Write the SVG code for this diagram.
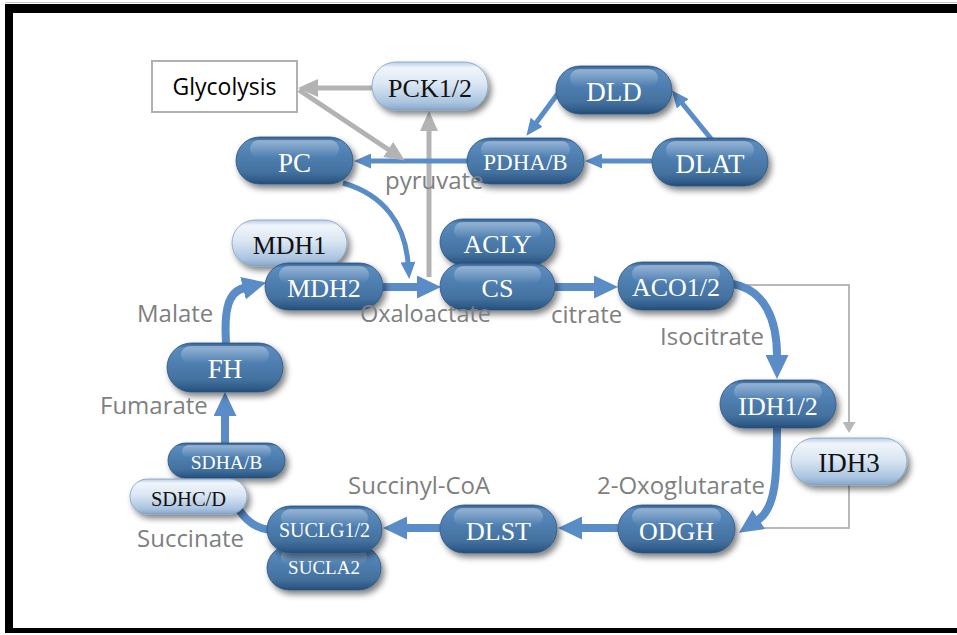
<svg xmlns="http://www.w3.org/2000/svg" width="957" height="635" viewBox="0 0 957 635">
<style>
.lbl{font-family:"Open Sans","Liberation Sans",sans-serif;font-size:24px;fill:#7f7f7f}
.nt{font-family:"Liberation Serif","Times New Roman",serif;font-size:26px;text-anchor:middle}
.dt{fill:#ffffff}
.lt{fill:#111111}
.dk{fill:url(#gDark);stroke:#2c5580;stroke-width:0.8;filter:url(#ds)}
.li{fill:url(#gLight);stroke:#7f9fc2;stroke-width:0.8;filter:url(#ds)}
.hl{fill:url(#gHi)}
.bl{fill:none;stroke:#5a8dc8;stroke-width:8}
.bs{fill:none;stroke:#5a8dc8;stroke-width:5}
.gy{fill:none;stroke:#b3b3b3;stroke-width:5}
.gt{fill:none;stroke:#b8b8b8;stroke-width:2}
</style>
<defs>
<linearGradient id="gDark" x1="0" y1="0" x2="0" y2="1">
<stop offset="0" stop-color="#335f8e"/>
<stop offset="0.1" stop-color="#5b8bbd"/>
<stop offset="0.35" stop-color="#5081b3"/>
<stop offset="0.75" stop-color="#43719f"/>
<stop offset="0.93" stop-color="#2f5a87"/>
<stop offset="1" stop-color="#234a74"/>
</linearGradient>
<linearGradient id="gLight" x1="0" y1="0" x2="0" y2="1">
<stop offset="0" stop-color="#b7cde5"/>
<stop offset="0.12" stop-color="#f0f5fb"/>
<stop offset="0.45" stop-color="#dbe7f3"/>
<stop offset="0.85" stop-color="#a9c3df"/>
<stop offset="1" stop-color="#86a6c9"/>
</linearGradient>
<linearGradient id="gHi" x1="0" y1="0" x2="0" y2="1">
<stop offset="0" stop-color="#ffffff" stop-opacity="0.35"/>
<stop offset="1" stop-color="#ffffff" stop-opacity="0"/>
</linearGradient>
<filter id="ds" x="-20%" y="-30%" width="150%" height="170%">
<feGaussianBlur in="SourceAlpha" stdDeviation="3"/>
<feOffset dx="3" dy="4" result="b"/>
<feComponentTransfer><feFuncA type="linear" slope="0.5"/></feComponentTransfer>
<feMerge><feMergeNode/><feMergeNode in="SourceGraphic"/></feMerge>
</filter>
<marker id="am" viewBox="0 0 24 23" refX="1" refY="11.5" markerWidth="24" markerHeight="23" markerUnits="userSpaceOnUse" orient="auto"><path d="M0,0 L24,11.5 L0,23 z" fill="#5a8dc8"/></marker>
<marker id="as" viewBox="0 0 17 15" refX="1" refY="7.5" markerWidth="17" markerHeight="15" markerUnits="userSpaceOnUse" orient="auto"><path d="M0,0 L17,7.5 L0,15 z" fill="#5a8dc8"/></marker>
<marker id="ag" viewBox="0 0 20 18" refX="1" refY="9" markerWidth="20" markerHeight="18" markerUnits="userSpaceOnUse" orient="auto"><path d="M0,0 L20,9 L0,18 z" fill="#b3b3b3"/></marker>
<marker id="at" viewBox="0 0 11 13" refX="1" refY="6.5" markerWidth="11" markerHeight="13" markerUnits="userSpaceOnUse" orient="auto"><path d="M0,0 L11,6.5 L0,13 z" fill="#b8b8b8"/></marker>
</defs>
<rect x="0" y="0" width="957" height="635" fill="#ffffff"/>
<g id="frame">
<rect x="5" y="2" width="952" height="1" fill="#c8c8c8"/>
<rect x="5" y="4" width="952" height="9" fill="#000000"/>
<rect x="5" y="4" width="8" height="629" fill="#000000"/>
<rect x="5" y="628" width="952" height="5" fill="#000000"/>
</g>
<g id="connectors">
<path class="gt" d="M735,285 L849,285 L849,423" marker-end="url(#at)"/>
<path class="gt" d="M849,485 L849,528 L742,528"/>
<path class="gy" d="M429,277 L429,130" marker-end="url(#ag)"/>
<path class="gy" d="M372,88 L317,88" marker-end="url(#ag)"/>
<path class="bs" d="M652,161 L601,161" marker-end="url(#as)"/>
<path class="bs" d="M712,140 L682,103" marker-end="url(#as)"/>
<path class="bs" d="M559,92 L536,123" marker-end="url(#as)"/>
<path class="bs" d="M468,161 L370,161" marker-end="url(#as)"/>
<path class="gy" d="M299,90 L389,150" marker-end="url(#ag)"/>
<path class="bs" d="M343,183 C385,195 405,225 408,263" marker-end="url(#as)"/>
<path class="bl" d="M383,287 L418,287" marker-end="url(#am)"/>
<path class="bl" d="M555,287 L595,287" marker-end="url(#am)"/>
<path class="bl" d="M733,284 C765,290 777,320 777,356" marker-end="url(#am)"/>
<path class="bl" d="M777,428 C777,475 776,508 758,520" marker-end="url(#am)"/>
<path class="bl" d="M618,528 L581,528" marker-end="url(#am)"/>
<path class="bl" d="M440,528 L406,528" marker-end="url(#am)"/>
<path class="bl" d="M270,530 C255,528 245,520 238,508"/>
<path class="bl" d="M225,445 L225,415" marker-end="url(#am)"/>
<path class="bl" d="M226,343 C224,310 228,292 244,288" marker-end="url(#am)"/>
</g>
<g id="n-glycolysis">
<rect x="152" y="61" width="145" height="51" fill="#ffffff" stroke="#b0b0b0" stroke-width="2"/>
<text x="224.5" y="95" font-family="Open Sans, Liberation Sans, sans-serif" font-size="23" fill="#000000" text-anchor="middle">Glycolysis</text>
</g>
<g id="n-PCK">
<rect class="li" x="372" y="62" width="116" height="48" rx="24"/>
<text class="nt lt" x="430" y="97">PCK1/2</text>
</g>
<g id="n-PC">
<rect class="dk" x="236" y="137" width="117" height="47" rx="23.5"/>
<rect class="hl" x="250" y="140" width="89" height="18" rx="9"/>
<text class="nt dt" x="294.5" y="172" style="font-size:27px">PC</text>
</g>
<g id="n-PDHA">
<rect class="dk" x="467" y="138" width="117" height="46" rx="23"/>
<rect class="hl" x="481" y="141" width="89" height="17" rx="8.5"/>
<text class="nt dt" x="525.5" y="170" style="font-size:23px">PDHA/B</text>
</g>
<g id="n-DLD">
<rect class="dk" x="556" y="66" width="116" height="48" rx="24"/>
<rect class="hl" x="570" y="69" width="88" height="18" rx="9"/>
<text class="nt dt" x="614" y="101" style="font-size:27px">DLD</text>
</g>
<g id="n-DLAT">
<rect class="dk" x="652" y="138" width="116" height="48" rx="24"/>
<rect class="hl" x="666" y="141" width="88" height="18" rx="9"/>
<text class="nt dt" x="710" y="173" style="font-size:27px">DLAT</text>
</g>
<g id="n-MDH1">
<rect class="li" x="232" y="220" width="115" height="46" rx="23"/>
<text class="nt lt" x="289.5" y="254">MDH1</text>
</g>
<g id="n-MDH2">
<rect class="dk" x="265" y="263" width="118" height="47" rx="23.5"/>
<rect class="hl" x="279" y="266" width="90" height="18" rx="9"/>
<text class="nt dt" x="324" y="297">MDH2</text>
</g>
<g id="n-ACLY">
<rect class="dk" x="440" y="219" width="115" height="46" rx="23"/>
<rect class="hl" x="454" y="222" width="87" height="17" rx="8.5"/>
<text class="nt dt" x="497.5" y="253">ACLY</text>
</g>
<g id="n-CS">
<rect class="dk" x="440" y="263" width="115" height="47" rx="23.5"/>
<rect class="hl" x="454" y="266" width="87" height="18" rx="9"/>
<text class="nt dt" x="497.5" y="297">CS</text>
</g>
<g id="n-ACO">
<rect class="dk" x="618" y="262" width="116" height="48" rx="24"/>
<rect class="hl" x="632" y="265" width="88" height="18" rx="9"/>
<text class="nt dt" x="676" y="296">ACO1/2</text>
</g>
<g id="n-IDH12">
<rect class="dk" x="720" y="380" width="116" height="48" rx="24"/>
<rect class="hl" x="734" y="383" width="88" height="18" rx="9"/>
<text class="nt dt" x="778" y="415">IDH1/2</text>
</g>
<g id="n-IDH3">
<rect class="li" x="791" y="438" width="116" height="47" rx="23.5"/>
<text class="nt lt" x="849" y="472" style="font-size:27px">IDH3</text>
</g>
<g id="n-ODGH">
<rect class="dk" x="618" y="505" width="117" height="48" rx="24"/>
<rect class="hl" x="632" y="508" width="89" height="18" rx="9"/>
<text class="nt dt" x="676.5" y="540">ODGH</text>
</g>
<g id="n-DLST">
<rect class="dk" x="440" y="505" width="117" height="48" rx="24"/>
<rect class="hl" x="454" y="508" width="89" height="18" rx="9"/>
<text class="nt dt" x="498.5" y="540">DLST</text>
</g>
<g id="n-SUCLA2">
<rect class="dk" x="267" y="546" width="114" height="44" rx="22"/>
<rect class="hl" x="281" y="549" width="86" height="16" rx="8"/>
<text class="nt dt" x="324" y="574" style="font-size:19px">SUCLA2</text>
</g>
<g id="n-SUCLG">
<rect class="dk" x="267" y="506" width="115" height="47" rx="23.5"/>
<rect class="hl" x="281" y="509" width="87" height="18" rx="9"/>
<text class="nt dt" x="324.5" y="537" style="font-size:20px">SUCLG1/2</text>
</g>
<g id="n-SDHAB">
<rect class="dk" x="168" y="443" width="117" height="35" rx="17.5"/>
<rect class="hl" x="182" y="445" width="89" height="13" rx="6.5"/>
<text class="nt dt" x="226.5" y="469" style="font-size:19.5px">SDHA/B</text>
</g>
<g id="n-SDHCD">
<rect class="li" x="130" y="479" width="117" height="35" rx="17.5"/>
<text class="nt lt" x="188.5" y="506" style="font-size:20.5px">SDHC/D</text>
</g>
<g id="n-FH">
<rect class="dk" x="167" y="343" width="116" height="49" rx="24.5"/>
<rect class="hl" x="181" y="346" width="88" height="18" rx="9"/>
<text class="nt dt" x="225" y="378" style="font-size:27px">FH</text>
</g>
<g id="labels">
<text class="lbl" x="385" y="189">pyruvate</text>
<text class="lbl" x="360" y="322" style="font-size:23.5px">Oxaloactate</text>
<text class="lbl" x="551" y="323">citrate</text>
<text class="lbl" x="660" y="345">Isocitrate</text>
<text class="lbl" x="597" y="494">2-Oxoglutarate</text>
<text class="lbl" x="348" y="494">Succinyl-CoA</text>
<text class="lbl" x="137" y="547">Succinate</text>
<text class="lbl" x="137" y="322">Malate</text>
<text class="lbl" x="100" y="414">Fumarate</text>
</g>
</svg>
